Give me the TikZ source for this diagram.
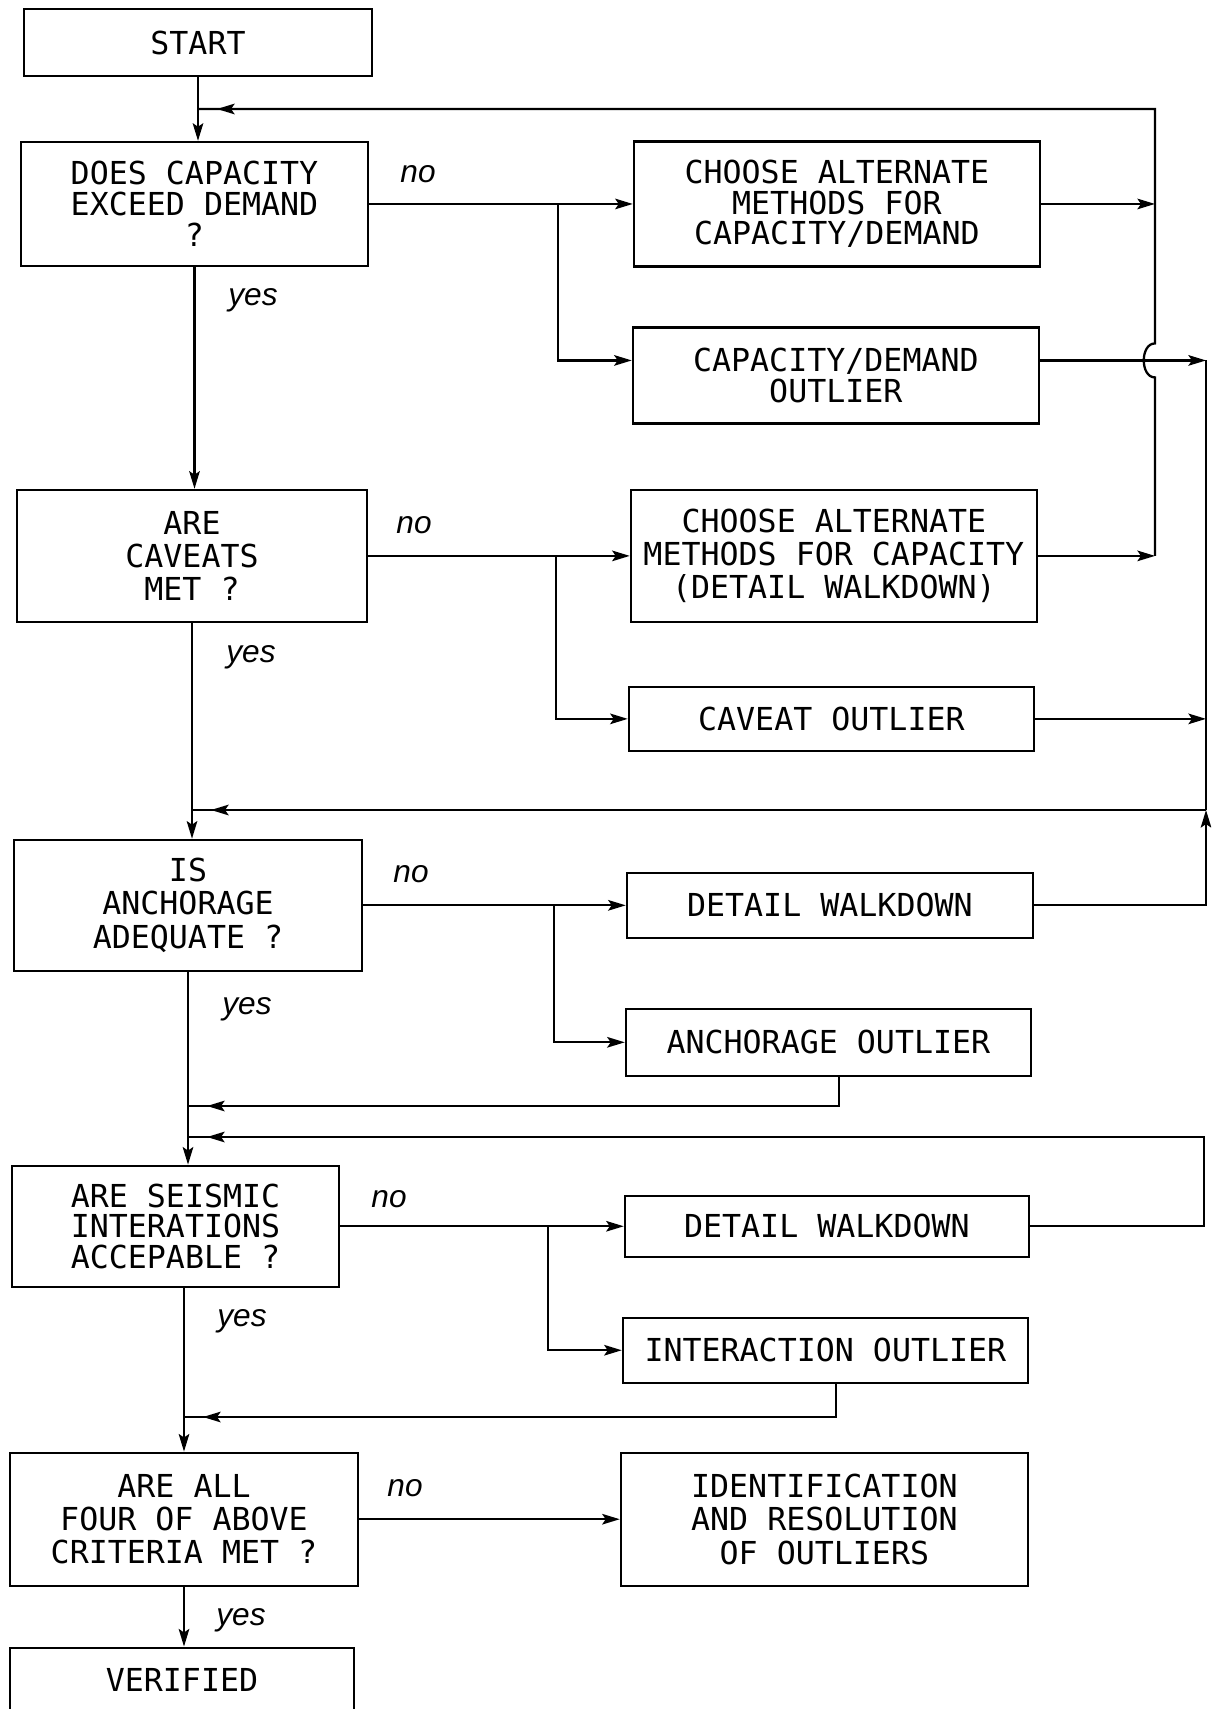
\documentclass[tikz,border=0pt]{standalone}
\usepackage{fontspec}
\usetikzlibrary{arrows.meta,calc,decorations.markings}
\newfontfamily\boxfont{DejaVu Sans Mono}
\newfontfamily\ynfont{Liberation Sans}
\tikzset{
  stepbox/.style={draw, line width=1.3pt, align=center, inner sep=0pt,
    font=\boxfont\fontsize{18}{17.5}\selectfont},
  qbox/.style={stepbox, minimum width=6.96cm},
  rbox/.style={stepbox, minimum width=8.12cm},
  tall/.style={font=\boxfont\fontsize{18}{19}\selectfont},
  yn/.style={font=\ynfont\itshape\fontsize{18}{18}\selectfont, inner sep=0pt},
  backtip/.style={postaction={decorate}, decoration={markings,
    mark=at position -0.38cm with {\arrow{>}}}},
}

\begin{document}
\begin{tikzpicture}[x=0.02cm, y=-0.02cm, >={Stealth[length=10pt,width=6pt,inset=2pt]}, line width=1.3pt]
    \useasboundingbox (0,0) rectangle (1211,1709);
    \clip (0,0) rectangle (1211,1709);

    % left column
    \node[qbox, minimum height=1.34cm] (start) at (198,42.5) {START};
    \node[qbox, minimum width=6.94cm, minimum height=2.48cm, below of=start, node distance=3.23cm, xshift=-0.07cm] (q1) {DOES CAPACITY\\EXCEED DEMAND\\?};
    \node[qbox, tall, minimum width=7cm, minimum height=2.64cm, below of=q1, node distance=7.04cm, xshift=-0.05cm] (q2) {ARE\\CAVEATS\\MET ?};
    \node[qbox, tall, minimum height=2.62cm, below of=q2, node distance=6.99cm, xshift=-0.08cm] (q3) {IS\\ANCHORAGE\\ADEQUATE ?};
    \node[qbox, minimum width=6.54cm, minimum height=2.42cm, below of=q3, node distance=6.42cm, xshift=-0.25cm] (q4) {ARE SEISMIC\\INTERATIONS\\ACCEPABLE ?};
    \node[qbox, tall, minimum height=2.66cm, below of=q4, node distance=5.86cm, xshift=0.17cm] (q5) {ARE ALL\\FOUR OF ABOVE\\CRITERIA MET ?};
    \node[qbox, minimum width=6.88cm, minimum height=1.28cm, below of=q5, node distance=3.21cm, xshift=-0.04cm] (verified) {VERIFIED};

    % right column
    \node[rbox, minimum height=2.5cm, right of=q1, node distance=12.85cm] (alt1) {CHOOSE ALTERNATE\\METHODS FOR\\CAPACITY/DEMAND};
    \node[rbox, minimum height=1.92cm, below of=alt1, node distance=3.43cm, xshift=-0.02cm] (cdout) {CAPACITY/DEMAND\\OUTLIER};
    \node[rbox, tall, minimum height=2.64cm, right of=q2, node distance=12.84cm] (alt2) {CHOOSE ALTERNATE\\METHODS FOR CAPACITY\\(DETAIL WALKDOWN)};
    \node[rbox, minimum width=8.1cm, minimum height=1.28cm, below of=alt2, node distance=3.26cm, xshift=-0.05cm] (cavout) {CAVEAT OUTLIER};
    \node[rbox, minimum height=1.3cm, right of=q3, node distance=12.84cm] (dw1) {DETAIL WALKDOWN};
    \node[rbox, minimum width=8.1cm, minimum height=1.34cm, below of=dw1, node distance=2.74cm, xshift=-0.03cm] (anchout) {ANCHORAGE OUTLIER};
    \node[rbox, minimum width=8.08cm, minimum height=1.22cm, right of=q4, node distance=13.03cm] (dw2) {DETAIL WALKDOWN};
    \node[rbox, minimum width=8.1cm, minimum height=1.3cm, below of=dw2, node distance=2.48cm, xshift=-0.03cm] (intout) {INTERACTION OUTLIER};
    \node[rbox, tall, minimum width=8.14cm, minimum height=2.66cm, right of=q5, node distance=12.81cm] (ident) {IDENTIFICATION\\AND RESOLUTION\\OF OUTLIERS};

    % yes / no labels
    \node[yn] (no1) at (418,174) {no};
    \node[yn] (yes1) at (253,300) {yes};
    \node[yn] (no2) at (414,525) {no};
    \node[yn] (yes2) at (251,657) {yes};
    \node[yn] (no3) at (411,874) {no};
    \node[yn] (yes3) at (247,1009) {yes};
    \node[yn] (no4) at (389,1199) {no};
    \node[yn] (yes4) at (242,1321) {yes};
    \node[yn] (no5) at (405,1488) {no};
    \node[yn] (yes5) at (241,1620) {yes};

    % helper points
    \coordinate (cdi) at ([yshift=0.3cm]cdout.west);
    \coordinate (cdo) at ([yshift=0.3cm]cdout.east);
    \coordinate (br1) at (558,0);
    \coordinate (br2) at (556,0);
    \coordinate (br3) at (554,0);
    \coordinate (br4) at (548,0);
    \coordinate (ctop) at (1155,109);
    \coordinate (ret1) at (1206,810);
    \coordinate (ret2) at (839,1106);
    \coordinate (ret3) at (1204,1137);
    \coordinate (ret4) at (836,1417);

    % main line
    \draw[->] (start.south) -- (start.south |- q1.north);
    \draw[->] (q1.south) -- (q1.south |- q2.north);
    \draw[->] (q2.south) -- (q2.south |- q3.north);
    \draw[->] (q3.south) -- (q3.south |- q4.north);
    \draw[->] (q4.south -| q5.north) -- (q5.north);
    \draw[->] (q5.south) -- (q5.south |- verified.north);

    % no branches
    \draw[->] (q1.east) -- (alt1.west);
    \draw[->] (br1 |- q1.east) |- (cdi);
    \draw[->] (q2.east) -- (alt2.west);
    \draw[->] (br2 |- q2.east) |- (cavout.west);
    \draw[->] (q3.east) -- (dw1.west);
    \draw[->] (br3 |- q3.east) |- (anchout.west);
    \draw[->] (q4.east) -- (dw2.west);
    \draw[->] (br4 |- q4.east) |- (intout.west);
    \draw[->] (q5.east) -- (ident.west);

    % first loop back, with the hop over the outlier line
    \draw[->] (alt1.east) -- (alt1.east -| ctop);
    \draw[->] (alt2.east) -- (alt2.east -| ctop);
    \draw[backtip] (alt2.east -| ctop) -- ($(cdo -| ctop)+(0,17)$)
        .. controls +(-15,0) and +(-15,0) .. ($(cdo -| ctop)+(0,-17)$)
        -- (ctop) -- (start.south |- ctop);

    % outliers and walkdown back to the main line
    \draw[->] (cdo) -- (cdo -| ret1);
    \draw (cdo -| ret1) -- (ret1);
    \draw[->] (cavout.east) -- (cavout.east -| ret1);
    \draw[->] (dw1.east) -- (dw1.east -| ret1) -- (ret1);
    \draw[backtip] (ret1) -- (q2.south |- ret1);
    \draw[backtip] (ret2 |- anchout.south) -- (ret2) -- (q3.south |- ret2);
    \draw[backtip] (dw2.east) -- (dw2.east -| ret3) -- (ret3) -- (q3.south |- ret3);
    \draw[backtip] (ret4 |- intout.south) -- (ret4) -- (q5.north |- ret4);
\end{tikzpicture}
\end{document}
